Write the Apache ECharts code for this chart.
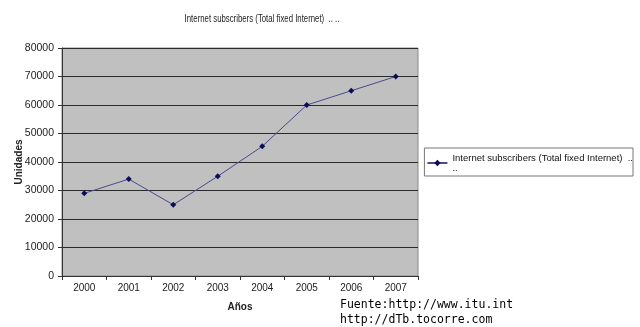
<!DOCTYPE html>
<html>
<head>
<meta charset="utf-8">
<script src="https://cdn.jsdelivr.net/npm/echarts@6/dist/echarts.min.js"></script>
<style>
  html, body { margin: 0; padding: 0; background: #fff; }
  #chart { width: 640px; height: 327px; }
</style>
</head>
<body>
<div id="chart"></div>
<script>
const years = ['2000', '2001', '2002', '2003', '2004', '2005', '2006', '2007'];
const subscribers = [29000, 34000, 25000, 35000, 45500, 60000, 65000, 70000];
const seriesName = 'Internet subscribers (Total fixed Internet)  ..';

var myChart = echarts.init(document.getElementById('chart'));

let option = {
    animation: false,
    textStyle: { fontFamily: 'Liberation Sans, Arial, sans-serif' },
    grid: {
        left: 62,
        right: 222,
        top: 48,
        bottom: 51,
        outerBoundsMode: 'none',
        containLabel: false,
        show: true,
        backgroundColor: '#c0c0c0',
        borderColor: '#8a8a8a',
        borderWidth: 1
    },
    legend: {
        orient: 'vertical',
        right: 7,
        top: 148,
        padding: [5, 0, 3, 2],
        borderColor: '#777',
        borderWidth: 1,
        itemWidth: 20,
        itemHeight: 8,
        itemGap: 2,
        textStyle: { fontSize: 9.5, color: '#111', lineHeight: 10 },
        formatter: (name) => name + '\n..',
        data: [seriesName]
    },
    xAxis: {
        type: 'category',
        data: years,
        boundaryGap: true,
        name: 'Años',
        nameLocation: 'middle',
        nameGap: 26,
        nameTextStyle: { fontSize: 10, fontWeight: 'bold', color: '#222' },
        axisLine: { lineStyle: { color: '#333' } },
        axisTick: { show: true, length: 4, lineStyle: { color: '#333' } },
        axisLabel: { fontSize: 10, color: '#222', margin: 7 },
        splitLine: { show: false }
    },
    yAxis: {
        type: 'value',
        min: 0,
        max: 80000,
        interval: 10000,
        name: 'Unidades',
        nameLocation: 'middle',
        nameGap: 38,
        nameMoveOverlap: false,
        nameTextStyle: { fontSize: 10, fontWeight: 'bold', color: '#222' },
        axisLine: { show: true, lineStyle: { color: '#333' } },
        axisTick: { show: true, length: 4, lineStyle: { color: '#333' } },
        axisLabel: { fontSize: 10.5, color: '#222', margin: 8, formatter: (v) => String(v) },
        splitLine: { show: true, lineStyle: { color: '#2a2a2a', width: 1.2 } }
    },
    series: [
        {
            name: seriesName,
            type: 'line',
            data: subscribers,
            symbol: 'diamond',
            symbolSize: 6,
            lineStyle: { color: '#4a4a8c', width: 1 },
            itemStyle: { color: '#0c0c5a' }
        }
    ],
    graphic: [
        {
            // chart title, squeezed horizontally like the original narrow font
            type: 'text',
            x: 262,
            y: 19,
            scaleX: 0.78,
            style: {
                text: 'Internet subscribers (Total fixed Internet)  .. ..',
                font: '10px "Liberation Sans", Arial, sans-serif',
                fill: '#222',
                align: 'center',
                verticalAlign: 'middle'
            }
        },
        {
            type: 'text',
            left: 340,
            top: 298,
            style: {
                text: 'Fuente:http://www.itu.int\nhttp://dTb.tocorre.com',
                font: '11.5px "DejaVu Sans Mono", monospace',
                lineHeight: 15,
                fill: '#000'
            }
        }
    ]
};

option && myChart.setOption(option);
</script>
</body>
</html>
